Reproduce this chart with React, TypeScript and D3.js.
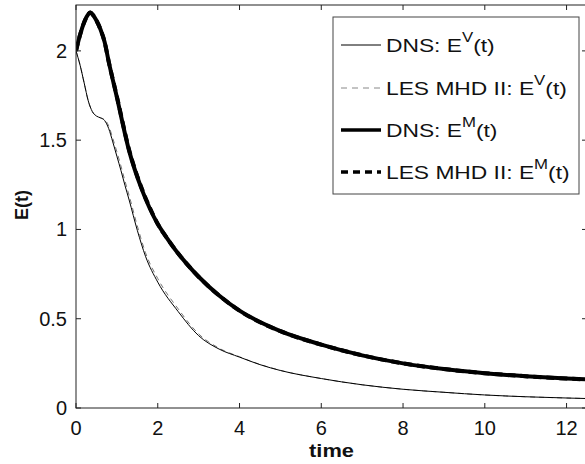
import React from "react";
import * as d3 from "d3";

const timeTicks = [0, 2, 4, 6, 8, 10, 12];
const energyTicks = [0, 0.5, 1, 1.5, 2];

const tDnsV = [0, 0.1, 0.2, 0.3, 0.4, 0.5, 0.6, 0.7, 0.8, 0.9, 1.0, 1.1, 1.2, 1.3, 1.5, 1.7, 2.0, 2.5, 3.0, 3.5, 4, 4.5, 5, 6, 7, 8, 9, 10, 11, 12, 12.5];
const eDnsV = [2.0, 1.92, 1.82, 1.72, 1.66, 1.635, 1.625, 1.61, 1.565, 1.49, 1.41, 1.33, 1.245, 1.165, 0.995, 0.85, 0.705, 0.54, 0.405, 0.33, 0.285, 0.243, 0.21, 0.165, 0.13, 0.105, 0.088, 0.073, 0.063, 0.056, 0.053];

const tLesV = [0, 0.1, 0.2, 0.3, 0.4, 0.5, 0.6, 0.7, 0.8, 0.9, 1.0, 1.1, 1.2, 1.3, 1.5, 1.7, 2.0, 2.5, 3.0, 3.5, 4, 4.5, 5, 6, 7, 8, 9, 10, 11, 12, 12.5];
const eLesV = [2.0, 1.92, 1.82, 1.72, 1.66, 1.635, 1.625, 1.615, 1.58, 1.51, 1.435, 1.355, 1.27, 1.19, 1.02, 0.87, 0.725, 0.555, 0.415, 0.335, 0.287, 0.244, 0.211, 0.165, 0.13, 0.105, 0.088, 0.073, 0.063, 0.056, 0.053];

const tDnsM = [0, 0.1, 0.2, 0.3, 0.35, 0.42, 0.5, 0.6, 0.7, 0.8, 1.0, 1.3, 1.6, 1.8, 2.0, 2.2, 2.5, 2.7, 3.0, 3.5, 4, 5, 6, 7, 8, 9, 10, 11, 12, 12.5];
const eDnsM = [2.0, 2.09, 2.16, 2.205, 2.215, 2.2, 2.17, 2.12, 2.05, 1.94, 1.74, 1.44, 1.23, 1.12, 1.03, 0.96, 0.865, 0.81, 0.735, 0.63, 0.545, 0.43, 0.355, 0.295, 0.25, 0.218, 0.195, 0.178, 0.165, 0.16];

const tLesM = [0, 0.1, 0.2, 0.3, 0.35, 0.42, 0.5, 0.6, 0.7, 0.8, 1.0, 1.3, 1.6, 1.8, 2.0, 2.2, 2.5, 2.7, 3.0, 3.5, 4, 5, 6, 7, 8, 9, 10, 11, 12, 12.5];
const eLesM = [2.0, 2.09, 2.16, 2.205, 2.215, 2.2, 2.17, 2.12, 2.05, 1.94, 1.745, 1.445, 1.235, 1.125, 1.03, 0.96, 0.865, 0.81, 0.735, 0.63, 0.545, 0.43, 0.355, 0.295, 0.25, 0.218, 0.195, 0.178, 0.165, 0.16];

const legendLabels = ["DNS: E", "LES MHD II: E", "DNS: E", "LES MHD II: E"];
const legendSups = ["V", "V", "M", "M"];

const FONT = "'Liberation Sans', Arial, Helvetica, sans-serif";

export default function App() {
  const left = 76, right = 587, top = 5, bottom = 408;
  const x = d3.scaleLinear().domain([0, 12.5]).range([left, right]);
  const y = d3.scaleLinear().domain([0, 2.257]).range([bottom, top]);

  const mk = (ts: number[], es: number[]) =>
    d3.line<number>().x((_, i) => x(ts[i])).y((d) => y(d)).curve(d3.curveMonotoneX)(es) || "";

  const series = [
    { d: mk(tDnsM, eDnsM), stroke: "#000", sw: 4, dash: "" },
    { d: mk(tLesM, eLesM), stroke: "#000", sw: 4, dash: "8,5" },
    { d: mk(tLesV, eLesV), stroke: "#777", sw: 1, dash: "5,4" },
    { d: mk(tDnsV, eDnsV), stroke: "#000", sw: 1, dash: "" },
  ];

  const legendStyles = [
    { stroke: "#000", sw: 1, dash: "" },
    { stroke: "#888", sw: 1, dash: "6,5" },
    { stroke: "#000", sw: 3.5, dash: "" },
    { stroke: "#000", sw: 3.5, dash: "7,5" },
  ];
  const legendY = [45, 88, 130, 172];

  return (
    <svg
      width={585}
      height={464}
      style={{ position: "absolute", left: 0, top: 0, background: "#fff" }}
      fontFamily={FONT}
    >
      <rect x={0} y={0} width={585} height={464} fill="#fff" />
      <defs>
        <clipPath id="plot">
          <rect x={left} y={top} width={right - left} height={bottom - top} />
        </clipPath>
      </defs>
      <g clipPath="url(#plot)">
        {series.map((s, i) => (
          <path key={i} d={s.d} fill="none" stroke={s.stroke} strokeWidth={s.sw} strokeDasharray={s.dash || undefined} strokeLinejoin="round" />
        ))}
      </g>
      <rect x={left} y={top} width={right - left} height={bottom - top} fill="none" stroke="#222" strokeWidth={1} />
      {timeTicks.map((t) => (
        <g key={"xt" + t}>
          <line x1={x(t)} x2={x(t)} y1={bottom} y2={bottom - 5} stroke="#222" />
          <line x1={x(t)} x2={x(t)} y1={top} y2={top + 5} stroke="#222" />
          <text x={x(t)} y={435} textAnchor="middle" fontSize={20} fill="#111">{t}</text>
        </g>
      ))}
      {energyTicks.map((e) => (
        <g key={"yt" + e}>
          <line x1={left} x2={left + 5} y1={y(e)} y2={y(e)} stroke="#222" />
          <line x1={right} x2={right - 5} y1={y(e)} y2={y(e)} stroke="#222" />
          <text x={67} y={y(e) + 7} textAnchor="end" fontSize={20} fill="#111">{e}</text>
        </g>
      ))}
      <text transform={`translate(${(left + right) / 2},457) scale(1.15,1)`} textAnchor="middle" fontSize={19} fontWeight="bold" fill="#111">time</text>
      <text transform={`translate(28,205) rotate(-90)`} textAnchor="middle" fontSize={18} fontWeight="bold" fill="#111">E(t)</text>
      <rect x={333} y={17} width={246} height={177} fill="#fff" stroke="#444" strokeWidth={1} />
      {legendLabels.map((lab, i) => (
        <g key={"lg" + i}>
          <line x1={341} x2={381} y1={legendY[i]} y2={legendY[i]} stroke={legendStyles[i].stroke} strokeWidth={legendStyles[i].sw} strokeDasharray={legendStyles[i].dash || undefined} />
          <text transform={`translate(386,${legendY[i] + 7}) scale(1.2,1)`} fontSize={19} fill="#111">
            {lab}
            <tspan dy={-10} fontSize={14}>{legendSups[i]}</tspan>
            <tspan dy={10} fontSize={19}>(t)</tspan>
          </text>
        </g>
      ))}
    </svg>
  );
}
